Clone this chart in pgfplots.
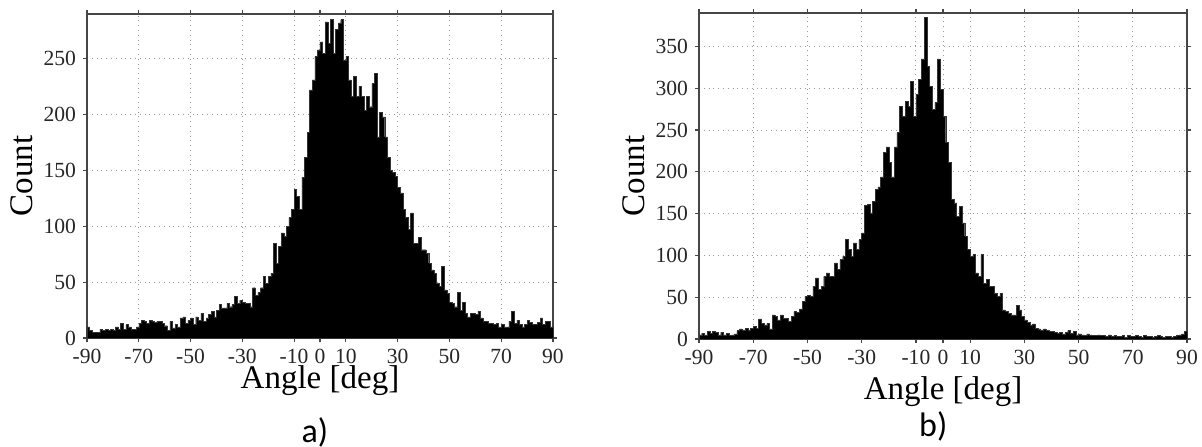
\documentclass[border=0pt]{standalone}
\usepackage{fontspec}
\setmainfont{Liberation Serif}
\newfontfamily\labfont{Carlito}
\usepackage{pgfplots}
\pgfplotsset{compat=1.18}

\pgfplotsset{
  histo/.style={
    scale only axis,
    clip=false,
    xmin=-90, xmax=90,
    ymin=0,
    xtick={-90,-70,-50,-30,-10,0,10,30,50,70,90},
    xticklabels={-90,-70,-50,-30,-10,0,10,30,50,70,90},
    tick align=outside,
    major tick length=2pt,
    grid=major,
    grid style={dotted, gray!80, line width=0.5pt},
    axis line style={gray!55!black, line width=0.7pt},
    every tick/.style={gray!55!black, line width=0.6pt},
    tick label style={font=\fontsize{10.8}{12}\selectfont, text=black!85},
    /pgf/number format/assume math mode=true,
    xlabel={Angle [deg]},
    ylabel={Count},
    label style={font=\fontsize{16.5}{19}\selectfont},
  },
  bars/.style={const plot mark left, fill=black, draw=black!80, line width=0.2pt, mark=none}
}

\begin{document}
\begin{tikzpicture}
% panel a)
\begin{axis}[histo,
  at={(43.5pt,54pt)}, anchor=south west,
  width=233pt, height=162pt,
  ymax=290, ytick={0,50,...,250},
  xlabel style={at={(axis description cs:0.5,-0.155)}, anchor=base},
  ylabel style={at={(axis description cs:-0.116,0.5)}, anchor=base},
]
\addplot[bars] coordinates {
(-90,10)(-89,7)(-88,5)(-87,5)(-86,5)(-85,8)(-84,7)(-83,8)(-82,7)(-81,8)
(-80,7)(-79,10)(-78,8)(-77,13)(-76,8)(-75,12)(-74,10)(-73,8)(-72,8)(-71,10)
(-70,13)(-69,16)(-68,15)(-67,13)(-66,16)(-65,15)(-64,14)(-63,15)(-62,15)(-61,13)
(-60,11)(-59,7)(-58,15)(-57,9)(-56,12)(-55,10)(-54,18)(-53,19)(-52,13)(-51,16)
(-50,18)(-49,12)(-48,19)(-47,16)(-46,22)(-45,15)(-44,18)(-43,21)(-42,24)(-41,19)
(-40,25)(-39,30)(-38,27)(-37,27)(-36,31)(-35,28)(-34,30)(-33,37)(-32,31)(-31,34)
(-30,32)(-29,31)(-28,31)(-27,28)(-26,45)(-25,38)(-24,41)(-23,45)(-22,55)(-21,49)
(-20,55)(-19,58)(-18,85)(-17,67)(-16,82)(-15,94)(-14,91)(-13,100)(-12,108)(-11,115)
(-10,133)(-9,127)(-8,115)(-7,144)(-6,162)(-5,184)(-4,222)(-3,231)(-2,252)(-1,258)
(0,265)(1,255)(2,283)(3,264)(4,285)(5,255)(6,276)(7,282)(8,285)(9,249)
(10,252)(11,231)(12,216)(13,234)(14,216)(15,225)(16,216)(17,204)(18,216)(19,207)
(20,228)(21,237)(22,180)(23,202)(24,198)(25,180)(26,162)(27,150)(28,148)(29,145)
(30,135)(31,130)(32,115)(33,108)(34,97)(35,112)(36,85)(37,85)(38,90)(39,79)
(40,79)(41,76)(42,67)(43,61)(44,58)(45,49)(46,46)(47,64)(48,43)(49,40)
(50,32)(51,31)(52,28)(53,41)(54,25)(55,32)(56,22)(57,19)(58,22)(59,22)
(60,21)(61,24)(62,18)(63,15)(64,15)(65,13)(66,13)(67,12)(68,13)(69,10)
(70,12)(71,10)(72,10)(73,15)(74,24)(75,13)(76,16)(77,12)(78,10)(79,12)
(80,16)(81,14)(82,12)(83,12)(84,14)(85,18)(86,12)(87,15)(88,15)(89,10)
(90,10)
} \closedcycle;
\node[font=\labfont\fontsize{17}{20}\selectfont, anchor=base] at (axis description cs:0.489,-0.324) {a)};
\end{axis}

% panel b)
\begin{axis}[histo,
  at={(349.5pt,53.5pt)}, anchor=south west,
  width=244pt, height=163pt,
  ymax=390, ytick={0,50,...,350},
  xlabel style={at={(axis description cs:0.5,-0.187)}, anchor=base},
  ylabel style={at={(axis description cs:-0.111,0.5)}, anchor=base},
]
\addplot[bars] coordinates {
(-90,5)(-89,7)(-88,5)(-87,9)(-86,7)(-85,9)(-84,8)(-83,5)(-82,8)(-81,5)
(-80,7)(-79,4)(-78,5)(-77,6)(-76,10)(-75,12)(-74,11)(-73,13)(-72,11)(-71,13)
(-70,15)(-69,13)(-68,24)(-67,19)(-66,17)(-65,19)(-64,12)(-63,29)(-62,27)(-61,23)
(-60,29)(-59,25)(-58,25)(-57,21)(-56,27)(-55,33)(-54,32)(-53,36)(-52,45)(-51,51)
(-50,52)(-49,51)(-48,63)(-47,73)(-46,59)(-45,63)(-44,75)(-43,79)(-42,75)(-41,75)
(-40,91)(-39,83)(-38,95)(-37,99)(-36,119)(-35,107)(-34,99)(-33,115)(-32,107)(-31,119)
(-30,127)(-29,160)(-28,161)(-27,151)(-26,165)(-25,179)(-24,182)(-23,194)(-22,223)(-21,230)
(-20,211)(-19,194)(-18,230)(-17,247)(-16,278)(-15,266)(-14,284)(-13,278)(-12,308)(-11,266)
(-10,293)(-9,311)(-8,335)(-7,385)(-6,326)(-5,302)(-4,275)(-3,283)(-2,335)(-1,299)
(0,266)(1,235)(2,211)(3,167)(4,163)(5,147)(6,159)(7,139)(8,123)(9,107)
(10,99)(11,101)(12,79)(13,75)(14,101)(15,67)(16,71)(17,63)(18,63)(19,55)
(20,51)(21,55)(22,35)(23,33)(24,31)(25,29)(26,29)(27,40)(28,35)(29,27)
(30,23)(31,20)(32,17)(33,18)(34,13)(35,12)(36,11)(37,12)(38,10)(39,9)
(40,9)(41,8)(42,7)(43,8)(44,6)(45,8)(46,10)(47,7)(48,9)(49,5)
(50,6)(51,5)(52,4)(53,6)(54,5)(55,4)(56,4)(57,5)(58,4)(59,4)
(60,3)(61,5)(62,3)(63,4)(64,3)(65,3)(66,4)(67,2)(68,4)(69,3)
(70,3)(71,4)(72,3)(73,2)(74,4)(75,3)(76,3)(77,2)(78,3)(79,4)
(80,3)(81,2)(82,3)(83,3)(84,2)(85,3)(86,4)(87,5)(88,6)(89,9)
(90,9)
} \closedcycle;
\node[font=\labfont\fontsize{17}{20}\selectfont, anchor=base] at (axis description cs:0.48,-0.30) {b)};
\end{axis}
\pgfresetboundingbox
\path[use as bounding box] (0,0) rectangle (601pt,223pt);
\end{tikzpicture}
\end{document}
